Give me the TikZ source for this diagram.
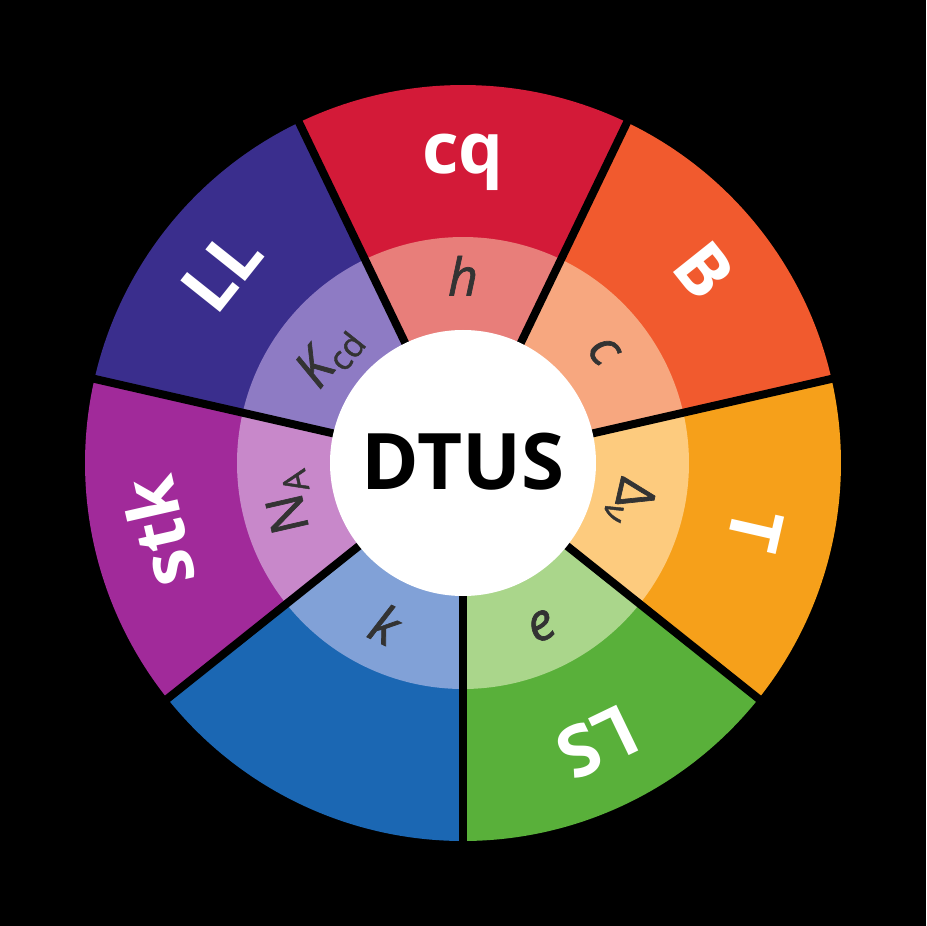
\documentclass[tikz,border=0pt]{standalone}
\usepackage{fontspec}
\setmainfont{Open Sans}
\newfontfamily\innerfont[FakeBold=1.3]{Open Sans}
\definecolor{cqO}{HTML}{D31A38}
\definecolor{cqI}{HTML}{E87E7A}
\definecolor{BO}{HTML}{F15A2E}
\definecolor{BI}{HTML}{F7A77F}
\definecolor{TO}{HTML}{F6A01A}
\definecolor{TI}{HTML}{FDCB7E}
\definecolor{LSO}{HTML}{59B03A}
\definecolor{LSI}{HTML}{AAD68B}
\definecolor{BLO}{HTML}{1B67B3}
\definecolor{BLI}{HTML}{81A1D7}
\definecolor{STO}{HTML}{A12A9A}
\definecolor{STI}{HTML}{C888CA}
\definecolor{LLO}{HTML}{3A2E8D}
\definecolor{LLI}{HTML}{8E7BC4}
\definecolor{lbldark}{HTML}{333333}
\newcommand{\subtxt}[1]{\raisebox{-9pt}{\fontsize{34}{34}\selectfont #1}}
\begin{document}
\begin{tikzpicture}[x=1pt,y=1pt,
  outerlbl/.style={text=white, inner sep=0pt, font=\fontsize{71}{71}\selectfont\bfseries, text height=50pt, text depth=0pt},
  innerlbl/.style={text=lbldark, inner sep=0pt, font=\fontsize{52}{52}\selectfont\innerfont\itshape, text height=37pt, text depth=0pt},
  centerlbl/.style={text=black, inner sep=0pt, font=\fontsize{78}{78}\selectfont\bfseries, text height=56pt, text depth=0pt},
  divider/.style={black, line width=8pt}]
\fill[black] (-463,-463) rectangle (463,463);
\foreach \i/\oc/\ic in {0/cqO/cqI,1/BO/BI,2/TO/TI,3/LSO/LSI,4/BLO/BLI,5/STO/STI,6/LLO/LLI}{
  \pgfmathsetmacro\s{90-51.428571*\i-25.714286}
  \fill[\oc] (0,0) -- (\s:378) arc[start angle=\s, delta angle=51.428571, radius=378] -- cycle;
  \fill[\ic] (0,0) -- (\s:226) arc[start angle=\s, delta angle=51.428571, radius=226] -- cycle;
}
\foreach \i in {0,...,6}{
  \pgfmathsetmacro\s{90-51.428571*\i-25.714286}
  \draw[divider] (0,0) -- (\s:392);
}
\fill[white] (0,0) circle[radius=133];
\node[centerlbl] (dtus) at (0,2) {DTUS};
% outer labels
\node[outerlbl, text height=38pt] (cq) at (90:308) {cq};
\node[outerlbl, rotate=-51.428571] (B) at (38.571429:308) {B};
\node[outerlbl, rotate=-102.857143] (T) at (-12.857143:300) {T};
\node[outerlbl, rotate=-154.285714] (LS) at (-64.285714:310) {LS};
\node[outerlbl, rotate=102.857143, text height=44pt] (stk) at (192.857143:308) {stk};
\node[outerlbl, rotate=51.428571] (LL) at (141.428571:308) {LL};
% inner labels
\node[innerlbl] (h) at (90:186) {h};
\node[innerlbl, rotate=-51.428571, text height=28pt] (c) at (38.571429:180) {c};
\node[innerlbl, rotate=-102.857143] (dv) at (-12.857143:176) {\upshape Δ\subtxt{\itshape ν}};
\node[innerlbl, rotate=25.714286, text height=28pt] (e) at (-64.285714:181) {e};
\node[innerlbl, rotate=-25.714286] (k) at (-115.714286:180) {k};
\node[innerlbl, rotate=102.857143] (na) at (192.857143:183) {\upshape N\subtxt{A}};
\node[innerlbl, rotate=51.428571] (kcd) at (141.428571:176) {K\subtxt{\upshape cd}};
\end{tikzpicture}
\end{document}
